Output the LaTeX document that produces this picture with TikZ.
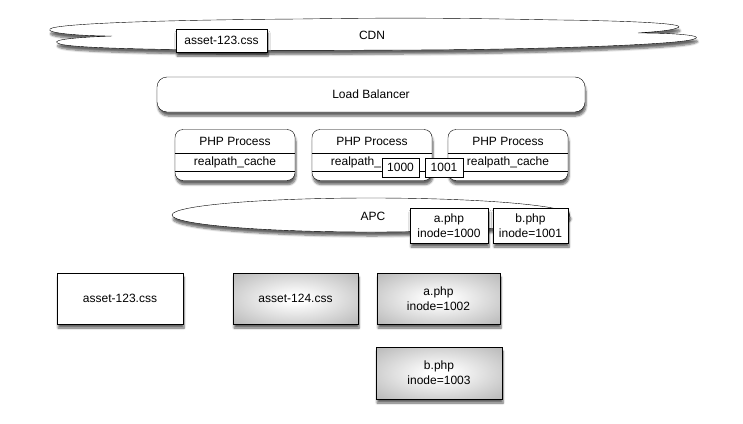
\documentclass[tikz,border=0pt]{standalone}
\usepackage{fontspec}
\setmainfont{Liberation Sans}
\usetikzlibrary{shadows.blur}

\pgfdeclareradialshading{boxglow}{\pgfpoint{0bp}{0bp}}{color(0bp)=(white); color(4bp)=(white); color(38bp)=(black!30); color(50bp)=(black!36)}

\tikzset{
  shade box/.style={blur shadow={shadow xshift=1pt, shadow yshift=-4pt, shadow blur steps=6, shadow opacity=60}},
  plain box/.style={draw=black, fill=white, shade box, minimum height=51pt, align=center},
  grey box/.style={plain box, shading=boxglow},
  tag box/.style={draw=black, fill=white, inner sep=0pt, minimum height=19pt},
  process box/.style={draw=black, fill=white, rounded corners=8pt, shade box, minimum width=120pt, minimum height=51pt}
}

\begin{document}
\begin{tikzpicture}[x=1pt, y=-1pt, font=\fontsize{12}{15}\selectfont]
\useasboundingbox (0,0) rectangle (743,423);

\filldraw[fill=white, draw=black, shade box] (112,36)
  .. controls (80,36) and (45,33) .. (50,29)
  .. controls (55,24) and (150,20) .. (300,19)
  .. controls (420,17) and (500,19) .. (560,20)
  .. controls (640,21) and (690,24) .. (677,28)
  .. controls (670,31) and (650,32) .. (638,33)
  .. controls (680,33) and (705,36) .. (694,39)
  .. controls (680,45) and (520,50) .. (400,50)
  .. controls (250,51) and (80,50) .. (60,44)
  .. controls (50,41) and (60,38) .. (112,36) -- cycle;
\node (cdn) at (372,35) {CDN};
\node[tag box, shade box, minimum width=91pt, minimum height=23pt] (cdnasset) at (221.5,40.5) {asset-123.css};

\node[process box, minimum width=428pt, minimum height=35pt, rounded corners=10pt] (lb) at (371,94.5) {Load Balancer};

\foreach \x/\n/\t in {235/1/cache, 372/2/\phantom{cache}, 508/3/cache} {
  \node[process box] (php\n) at (\x,155) {};
  \draw (php\n.west |- 0,153) -- (php\n.east |- 0,153);
  \draw (php\n.west |- 0,171) -- (php\n.east |- 0,171);
  \node (title\n) at (\x,141) {PHP Process};
  \node (cache\n) at (\x,162) {realpath\_\t};
}
\node[tag box, minimum width=37pt] (ino1) at (400.5,167.5) {1000};
\node[tag box, minimum width=38pt] (ino2) at (444,167.5) {1001};

\filldraw[fill=white, draw=black, shade box] (371,215) ellipse (199 and 17);
\node (apc) at (373,216) {APC};
\node[plain box, minimum width=78pt, minimum height=35pt, inner sep=1pt] (apca) at (449,225.5) {a.php\\inode=1000};
\node[plain box, minimum width=75pt, minimum height=35pt, inner sep=1pt] (apcb) at (530.5,225.5) {b.php\\inode=1001};

\node[plain box, minimum width=126pt] (disk123) at (120,298.5) {asset-123.css};
\node[grey box, minimum width=125pt] (disk124) at (295.5,298.5) {asset-124.css};
\node[grey box, minimum width=123pt] (diska) at (438.5,298.5) {a.php\\inode=1002};
\node[grey box, minimum width=126pt, minimum height=52pt] (diskb) at (439,373) {b.php\\inode=1003};
\end{tikzpicture}
\end{document}
